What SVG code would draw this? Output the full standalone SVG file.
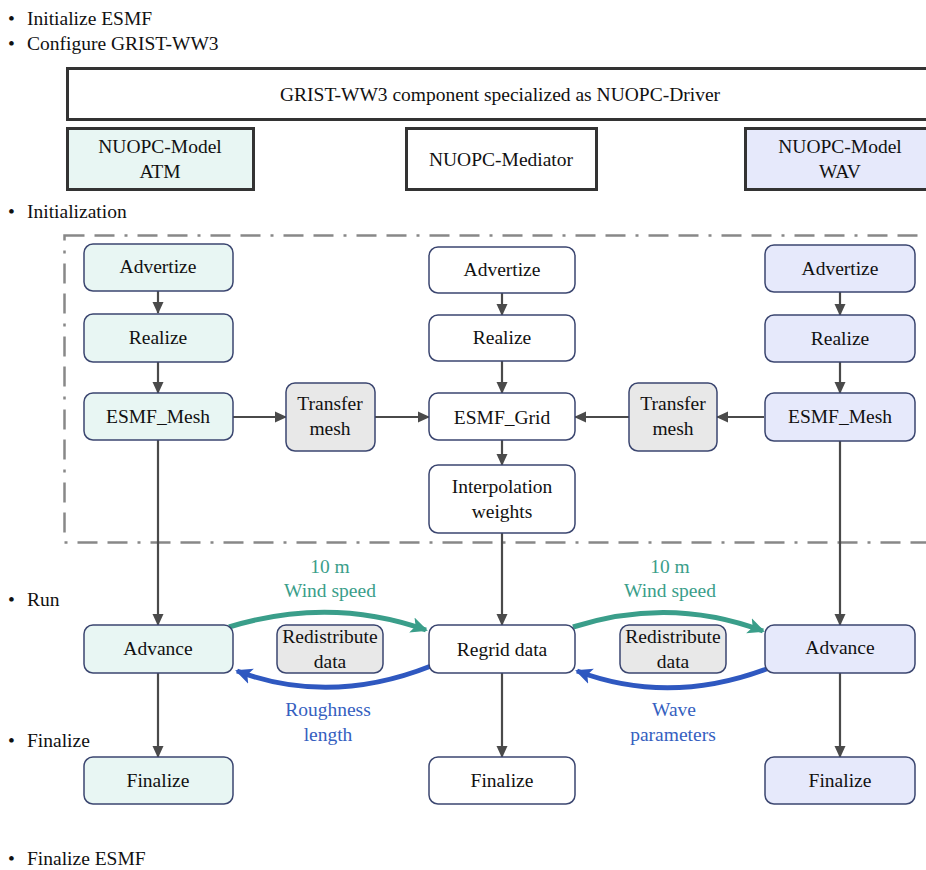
<svg xmlns="http://www.w3.org/2000/svg" width="926" height="870" viewBox="0 0 926 870">
<style>
text{font-family:"Liberation Serif","Times New Roman",Times,Tinos,"Nimbus Roman","Noto Serif","DejaVu Serif",FreeSerif,serif;font-size:19.5px;fill:#111}
.c{text-anchor:middle}
.hdr{stroke:#333;stroke-width:3}
.n{stroke:#3b4670;stroke-width:1.5}
.atm{fill:#e8f6f3}.med{fill:#fff}.wav{fill:#e6e9fb}.gry{fill:#e8e8e8}
.e{stroke:#4a4a4a;stroke-width:2.2;fill:none;marker-end:url(#ah)}
.tl{stroke:#3a9e8a;stroke-width:5;fill:none;marker-end:url(#at)}
.bl{stroke:#2f58c0;stroke-width:5;fill:none;marker-end:url(#ab)}
.tt{fill:#3a9e8a}.bt{fill:#3560c0}
</style>
<defs>
<marker id="ah" markerUnits="userSpaceOnUse" markerWidth="12" markerHeight="12" viewBox="0 0 12 12" refX="11" refY="6" orient="auto"><path d="M0,0.5L12,6L0,11.5z" fill="#4a4a4a"/></marker>
<marker id="at" markerUnits="userSpaceOnUse" markerWidth="18" markerHeight="18" viewBox="0 0 18 18" refX="15" refY="9" orient="auto"><path d="M0,1L17,9L0,17L4,9z" fill="#3a9e8a"/></marker>
<marker id="ab" markerUnits="userSpaceOnUse" markerWidth="18" markerHeight="18" viewBox="0 0 18 18" refX="15" refY="9" orient="auto"><path d="M0,1L17,9L0,17L4,9z" fill="#2f58c0"/></marker>
</defs>
<rect width="926" height="870" fill="#fff"/>
<g id="bullets">
<text x="8" y="25">•<tspan x="27">Initialize ESMF</tspan></text>
<text x="8" y="50">•<tspan x="27">Configure GRIST-WW3</tspan></text>
<text x="8" y="218">•<tspan x="27">Initialization</tspan></text>
<text x="8" y="606">•<tspan x="27">Run</tspan></text>
<text x="8" y="747">•<tspan x="27">Finalize</tspan></text>
<text x="8" y="865">•<tspan x="27">Finalize ESMF</tspan></text>
</g>
<g id="driver"><rect class="hdr" x="67.5" y="68.5" width="870" height="51" fill="#fff"/><text class="c" x="500" y="101">GRIST-WW3 component specialized as NUOPC-Driver</text></g>
<g id="model-atm"><rect class="hdr atm" x="67.5" y="128.5" width="186" height="61"/><text class="c" x="160" y="153">NUOPC-Model</text><text class="c" x="160" y="178">ATM</text></g>
<g id="mediator"><rect class="hdr med" x="406.5" y="128.5" width="190" height="61"/><text class="c" x="501" y="166">NUOPC-Mediator</text></g>
<g id="model-wav"><rect class="hdr wav" x="745.5" y="128.5" width="200" height="61"/><text class="c" x="840" y="153">NUOPC-Model</text><text class="c" x="840" y="178">WAV</text></g>
<g id="init-frame"><rect x="64.5" y="235.5" width="900" height="307" fill="none" stroke="#888" stroke-width="2.5" stroke-dasharray="20,10,20,10,3,10"/></g>

<g id="connectors">
<path class="e" d="M158,291V313"/>
<path class="e" d="M158,362V393"/>
<path class="e" d="M158,440V625"/>
<path class="e" d="M158,673V757"/>
<path class="e" d="M502,293V315"/>
<path class="e" d="M502,361V393"/>
<path class="e" d="M502,440V465"/>
<path class="e" d="M502,533V625"/>
<path class="e" d="M502,673V757"/>
<path class="e" d="M840,292V315"/>
<path class="e" d="M840,362V393"/>
<path class="e" d="M840,441V625"/>
<path class="e" d="M840,673V757"/>
<path class="e" d="M233,417H286"/>
<path class="e" d="M375,417H429"/>
<path class="e" d="M764,417H717"/>
<path class="e" d="M629,417H575"/>
<path class="tl" d="M229,627Q330,596 426,630"/>
<path class="bl" d="M431,666Q330,706 237,671"/>
<path class="tl" d="M573,627Q670,596 763,631"/>
<path class="bl" d="M769,668Q670,706 577,671"/>
</g>
<g id="labels">
<text class="c tt" x="330" y="573">10 m</text><text class="c tt" x="330" y="597">Wind speed</text>
<text class="c bt" x="328" y="716">Roughness</text><text class="c bt" x="328" y="741">length</text>
<text class="c tt" x="670" y="573">10 m</text><text class="c tt" x="670" y="597">Wind speed</text>
<text class="c bt" x="674" y="716">Wave</text><text class="c bt" x="673" y="741">parameters</text>
</g>

<g id="atm-advertize"><rect class="n atm" x="84" y="244" width="149" height="47" rx="9"/><text class="c" x="158" y="273">Advertize</text></g>
<g id="atm-realize"><rect class="n atm" x="84" y="314" width="149" height="48" rx="9"/><text class="c" x="158" y="344">Realize</text></g>
<g id="atm-mesh"><rect class="n atm" x="84" y="393" width="149" height="47" rx="9"/><text class="c" x="158" y="423">ESMF_Mesh</text></g>
<g id="atm-transfer"><rect class="n gry" x="286" y="383" width="89" height="68" rx="9"/><text class="c" x="330" y="410">Transfer</text><text class="c" x="330" y="435">mesh</text></g>
<g id="atm-advance"><rect class="n atm" x="84" y="625" width="149" height="48" rx="9"/><text class="c" x="158" y="655">Advance</text></g>
<g id="atm-redistribute"><rect class="n gry" x="277" y="625" width="106" height="48" rx="9"/><text class="c" x="330" y="643">Redistribute</text><text class="c" x="330" y="668">data</text></g>
<g id="atm-finalize"><rect class="n atm" x="84" y="757" width="149" height="47" rx="9"/><text class="c" x="158" y="787">Finalize</text></g>

<g id="med-advertize"><rect class="n med" x="429" y="247" width="146" height="46" rx="9"/><text class="c" x="502" y="276">Advertize</text></g>
<g id="med-realize"><rect class="n med" x="429" y="315" width="146" height="46" rx="9"/><text class="c" x="502" y="344">Realize</text></g>
<g id="med-grid"><rect class="n med" x="429" y="393" width="146" height="47" rx="9"/><text class="c" x="502" y="424">ESMF_Grid</text></g>
<g id="med-weights"><rect class="n med" x="429" y="465" width="146" height="68" rx="9"/><text class="c" x="502" y="493">Interpolation</text><text class="c" x="502" y="518">weights</text></g>
<g id="med-regrid"><rect class="n med" x="429" y="625" width="146" height="48" rx="9"/><text class="c" x="502" y="656">Regrid data</text></g>
<g id="med-finalize"><rect class="n med" x="429" y="757" width="146" height="47" rx="9"/><text class="c" x="502" y="787">Finalize</text></g>

<g id="wav-advertize"><rect class="n wav" x="765" y="245" width="150" height="47" rx="9"/><text class="c" x="840" y="275">Advertize</text></g>
<g id="wav-realize"><rect class="n wav" x="765" y="315" width="150" height="47" rx="9"/><text class="c" x="840" y="345">Realize</text></g>
<g id="wav-mesh"><rect class="n wav" x="765" y="393" width="150" height="48" rx="9"/><text class="c" x="840" y="423">ESMF_Mesh</text></g>
<g id="wav-transfer"><rect class="n gry" x="629" y="383" width="88" height="68" rx="9"/><text class="c" x="673" y="410">Transfer</text><text class="c" x="673" y="435">mesh</text></g>
<g id="wav-advance"><rect class="n wav" x="765" y="625" width="150" height="48" rx="9"/><text class="c" x="840" y="654">Advance</text></g>
<g id="wav-redistribute"><rect class="n gry" x="620" y="625" width="106" height="48" rx="9"/><text class="c" x="673" y="643">Redistribute</text><text class="c" x="673" y="668">data</text></g>
<g id="wav-finalize"><rect class="n wav" x="765" y="757" width="150" height="47" rx="9"/><text class="c" x="840" y="787">Finalize</text></g>
</svg>
